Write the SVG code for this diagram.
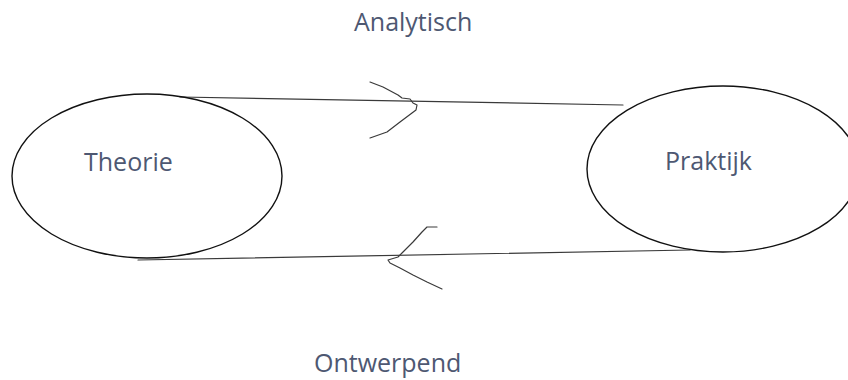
<svg xmlns="http://www.w3.org/2000/svg" width="848" height="380" viewBox="0 0 848 380">
  <style>
    .node ellipse { fill: none; stroke: #111; stroke-width: 1.4; }
    .label { font-family: "Open Sans", "Liberation Sans", sans-serif; font-size: 25px; fill: #4e5872; }
    .conn { fill: none; stroke: #3a3a3a; stroke-width: 1.2; stroke-linecap: round; stroke-linejoin: round; }
  </style>
  <rect width="848" height="380" fill="#ffffff"/>
  <g id="connectors">
    <path class="conn" d="M180,97 L623,105"/>
    <path class="conn" d="M370,82 L383,87 L398,95 L402,98 L410,99 L413,103 L417,105 L416,110 L412,113 L400,122 L387,132 L370,138"/>
    <path class="conn" d="M690,250 L138,260"/>
    <path class="conn" d="M437,227 L427,227 L422,232 L413,242 L403,252 L398,257 L388,260 L390,263 L400,268 L413,275 L427,282 L442,289"/>
  </g>
  <g id="theorie" class="node">
    <ellipse cx="147" cy="176" rx="135" ry="82"/>
    <text class="label" x="84" y="171">Theorie</text>
  </g>
  <g id="praktijk" class="node">
    <ellipse cx="723" cy="169" rx="136" ry="83"/>
    <text class="label" x="665" y="170">Praktijk</text>
  </g>
  <g id="label-analytisch">
    <text class="label" x="354" y="31">Analytisch</text>
  </g>
  <g id="label-ontwerpend">
    <text class="label" x="314" y="372">Ontwerpend</text>
  </g>
</svg>
